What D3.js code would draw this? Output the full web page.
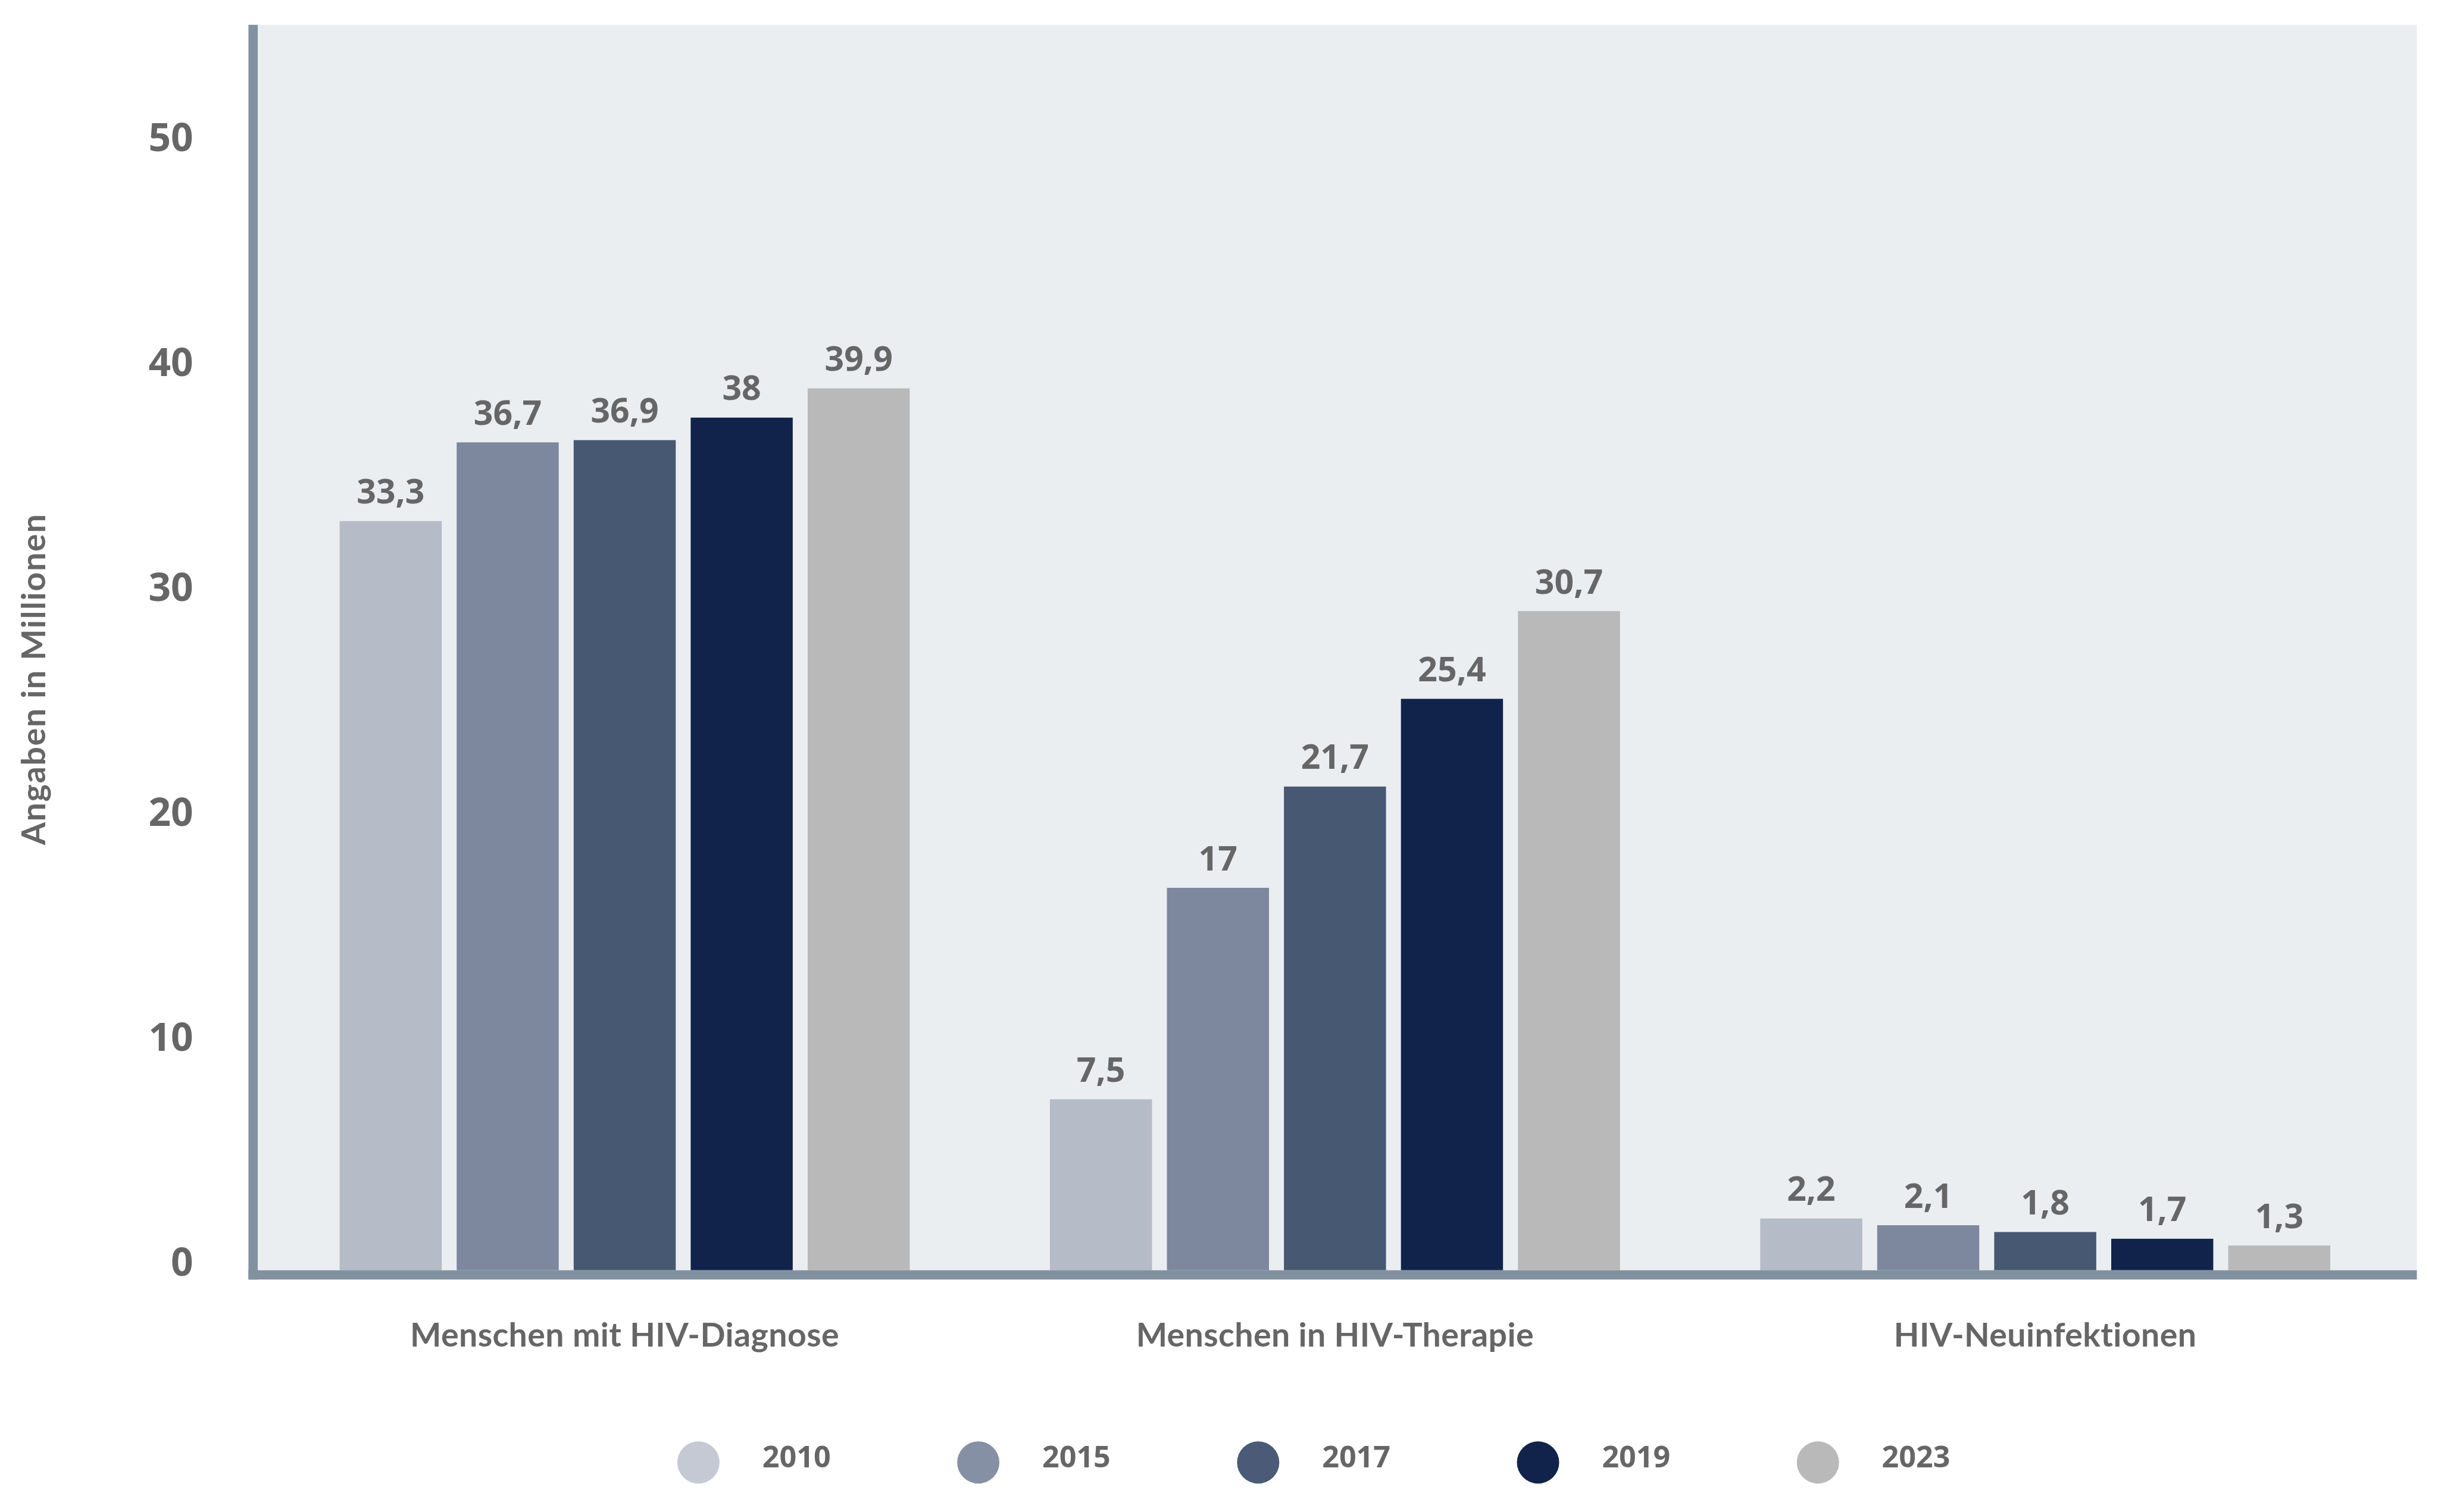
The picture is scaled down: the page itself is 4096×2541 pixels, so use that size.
<!DOCTYPE html>
<html>
<head>
<meta charset="utf-8">
<script src="https://cdn.jsdelivr.net/npm/d3@7"></script>
<style>
  html, body { margin: 0; padding: 0; background: #ffffff; }
  svg { display: block; }
</style>
</head>
<body>
<svg id="chart" width="4096" height="2541" viewBox="0 0 4730 2934"></svg>
<script>
// ---- data ----
const categories = ["Menschen mit HIV-Diagnose", "Menschen in HIV-Therapie", "HIV-Neuinfektionen"];
const years = ["2010", "2015", "2017", "2019", "2023"];
// bar heights as drawn (millions)
const values2010 = [33.3, 7.6, 2.3];
const values2015 = [36.8, 17.0, 2.0];
const values2017 = [36.9, 21.5, 1.7];
const values2019 = [37.9, 25.4, 1.4];
const values2023 = [39.2, 29.3, 1.1];
// printed value labels
const labels2010 = ["33,3", "7,5", "2,2"];
const labels2015 = ["36,7", "17", "2,1"];
const labels2017 = ["36,9", "21,7", "1,8"];
const labels2019 = ["38", "25,4", "1,7"];
const labels2023 = ["39,9", "30,7", "1,3"];
const yTicks = [0, 10, 20, 30, 40, 50];
const yTitle = "Angaben in Millionen";

const seriesValues = [values2010, values2015, values2017, values2019, values2023];
const seriesLabels = [labels2010, labels2015, labels2017, labels2019, labels2023];
const barColors = ["#b5bbc7", "#7d879e", "#475873", "#12234b", "#b9b9b9"];
const legendColors = ["#c4c9d4", "#8690a4", "#4a5a77", "#12234b", "#b9b9b9"];

const svg = d3.select("#chart");
const textColor = "#666666";
const axisColor = "#8291a0";

// plot geometry (reference pixel space)
const plotLeft = 500, plotRight = 4689, plotTop = 48, baseY = 2465;

const y = d3.scaleLinear().domain([0, 55.36]).range([baseY, plotTop]);
const x0 = d3.scaleBand().domain(categories).range([523, 4657]).paddingInner(0).paddingOuter(0);
const groupW = 1106;
const x1 = d3.scaleBand().domain(years).range([0, groupW]).paddingInner(29 / 227).paddingOuter(0);

// background
svg.append("rect")
  .attr("x", plotLeft).attr("y", plotTop)
  .attr("width", plotRight - plotLeft).attr("height", baseY - plotTop)
  .attr("fill", "#eaeef1");

// bars
const data = [];
categories.forEach((c, ci) => {
  years.forEach((yr, si) => {
    data.push({cat: c, year: yr, si: si, v: seriesValues[si][ci], label: seriesLabels[si][ci]});
  });
});

const groupOffset = (x0.bandwidth() - groupW) / 2;
const bx = d => x0(d.cat) + groupOffset + x1(d.year);

svg.append("g").selectAll("rect").data(data).join("rect")
  .attr("x", d => bx(d))
  .attr("y", d => y(d.v))
  .attr("width", x1.bandwidth())
  .attr("height", d => baseY - y(d.v))
  .attr("fill", d => barColors[d.si]);

// value labels
svg.append("g").selectAll("text").data(data).join("text")
  .attr("x", d => bx(d) + x1.bandwidth() / 2)
  .attr("y", d => y(d.v) - 34)
  .attr("text-anchor", "middle")
  .attr("font-family", "'Open Sans', sans-serif")
  .attr("font-weight", 700)
  .attr("font-size", 66)
  .attr("fill", textColor)
  .text(d => d.label);

// axis lines (thick)
svg.append("rect")
  .attr("x", 482).attr("y", plotTop)
  .attr("width", 18).attr("height", baseY + 18 - plotTop)
  .attr("fill", axisColor);
svg.append("rect")
  .attr("x", 482).attr("y", baseY)
  .attr("width", plotRight - 482).attr("height", 18)
  .attr("fill", axisColor);

// y axis ticks
const yAxis = d3.axisLeft(y).tickValues(yTicks).tickSize(0).tickPadding(0).tickFormat(d3.format("d"));
const gy = svg.append("g").attr("transform", "translate(375,-14)").call(yAxis);
gy.select(".domain").remove();
gy.selectAll("text")
  .attr("font-family", "'Open Sans', sans-serif")
  .attr("font-weight", 700)
  .attr("font-size", 76)
  .attr("fill", textColor);

// x axis category labels
const xAxis = d3.axisBottom(x0).tickSize(0).tickPadding(0);
const gx = svg.append("g").attr("transform", "translate(0,2568)").call(xAxis);
gx.select(".domain").remove();
gx.selectAll("text")
  .attr("dy", "0.71em")
  .attr("font-family", "Lato, sans-serif")
  .attr("font-weight", 700)
  .attr("font-size", 64)
  .attr("letter-spacing", 0.5)
  .attr("fill", textColor);

// y axis title
svg.append("text")
  .attr("transform", "translate(88,1318) rotate(-90)")
  .attr("text-anchor", "middle")
  .attr("font-family", "Lato, sans-serif")
  .attr("font-weight", 700)
  .attr("font-size", 64)
  .attr("letter-spacing", 2)
  .attr("fill", textColor)
  .text(yTitle);

// legend
const lx = d3.scalePoint().domain(years).range([1355, 3527]);
const lg = svg.append("g").selectAll("g").data(years).join("g")
  .attr("transform", d => `translate(${lx(d)},2838)`);
lg.append("circle").attr("r", 41).attr("fill", (d, i) => legendColors[i]);
lg.append("text")
  .attr("x", 124).attr("y", 9)
  .attr("font-family", "'Open Sans', sans-serif")
  .attr("font-weight", 700)
  .attr("font-size", 58)
  .attr("fill", textColor)
  .text(d => d);
</script>
</body>
</html>
